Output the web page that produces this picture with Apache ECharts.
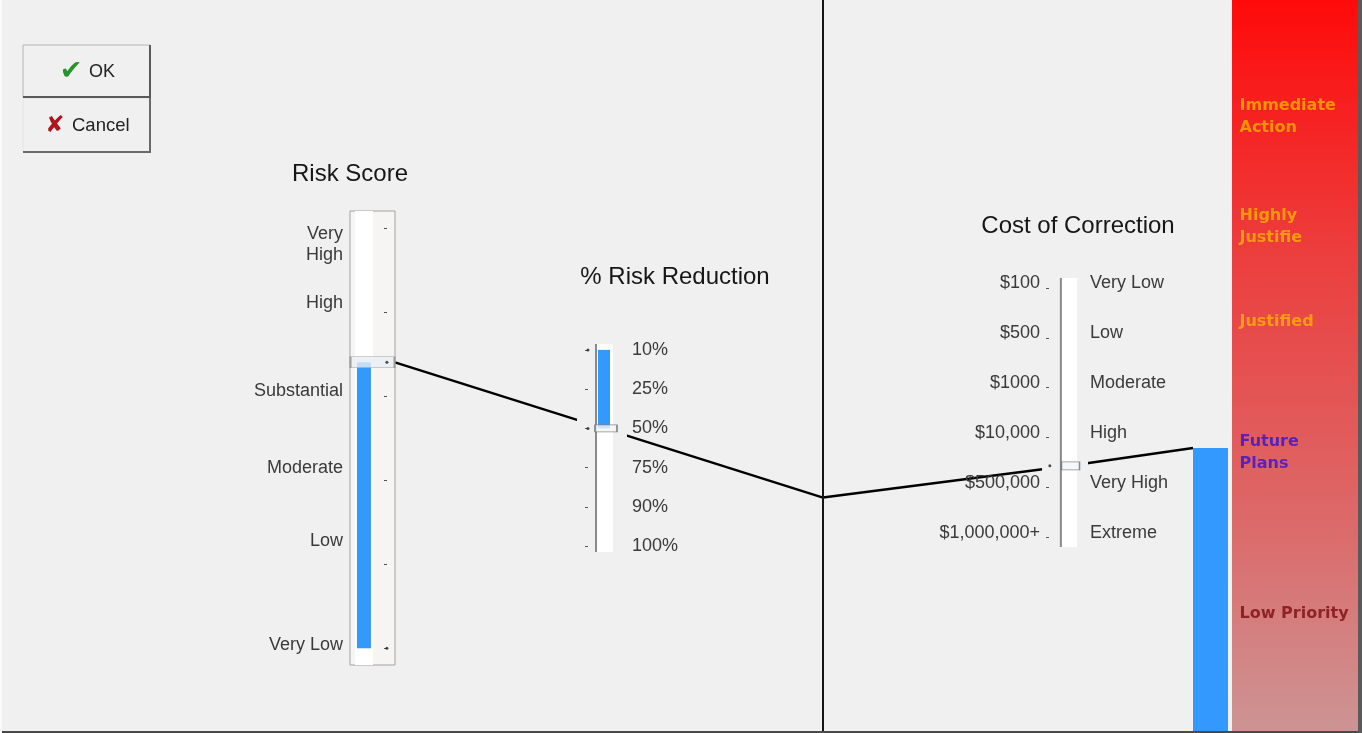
<!DOCTYPE html>
<html><head><meta charset="utf-8">
<script src="https://cdn.jsdelivr.net/npm/echarts@6/dist/echarts.min.js"></script>
<style>html,body{margin:0;padding:0;background:#f0f0f0;overflow:hidden}#c{width:1362px;height:733px}</style>
</head><body><div id="c"></div>
<script>
// ---------- data ----------
const riskLevels = ['Very Low', 'Low', 'Moderate', 'Substantial', 'High', 'Very\nHigh'];
const riskScore = 3.4;
const reductionLevels = ['10%', '25%', '50%', '75%', '90%', '100%'];
const reductionValue = 2;
const costAmounts = ['$100', '$500', '$1000', '$10,000', '$500,000', '$1,000,000+'];
const costLevels = ['Very Low', 'Low', 'Moderate', 'High', 'Very High', 'Extreme'];
const costValue = 3.57;
const priorityLevels = ['Immediate\nAction', 'Highly\nJustifie', 'Justified', 'Future\nPlans', 'Low Priority'];
const priorityScores = [84, 69, 56, 38, 16];
const priorityColors = ['#ffb000', '#ffb000', '#ffb000', '#3414d4', '#7c0c0c'];
const resultScore = 38.7;
const levelIdx = [0, 1, 2, 3, 4, 5];

// ---------- layout ----------
const FONT = '"Liberation Sans", Arial, sans-serif';
const RISK = [-0.2, 5.2], RED = [-0.15, 5.15], COST = [-0.2, 5.2];
// where the slider's text sits relative to its tick (layout only, in axis units)
const riskLabelAt = [0.04, 1.27, 2.14, 3.06, 4.1, 4.8];
const costLabelAt = levelIdx.map(i => i - 0.09);

const chart = echarts.init(document.getElementById('c'));
const lab = (arr) => (v) => { const i = Math.round(v); return arr[i] !== undefined ? arr[i] : ''; };

function hx(grid) { return { type: 'value', gridIndex: grid, min: 0, max: 1, show: false }; }
function yBase(grid, range, inverse) {
  return { type: 'value', gridIndex: grid, min: range[0], max: range[1], inverse: !!inverse, z: 6,
    splitLine: { show: false }, axisLine: { show: false, onZero: false }, axisTick: { show: false }, axisLabel: { show: false } };
}
function labelAxis(grid, range, inverse, pos, arr, margin, at) {
  const a = yBase(grid, range, inverse);
  a.position = pos;
  a.axisLabel = { show: true, customValues: at || levelIdx, formatter: lab(arr), margin: margin,
    fontFamily: FONT, fontSize: 18, color: '#3a3a3a', lineHeight: 21 };
  return a;
}
function tickAxis(grid, range, inverse, pos, offset, inside) {
  const a = yBase(grid, range, inverse);
  a.position = pos; a.offset = offset;
  a.axisTick = { show: true, customValues: levelIdx, length: 3, inside: !!inside, lineStyle: { color: '#555', width: 1 } };
  return a;
}

const option = {
  backgroundColor: '#f0f0f0',
  animation: false,
  grid: [
    { left: 0, top: 0, width: 1362, height: 733, show: false },
    { left: 350, top: 211, width: 45, height: 454, show: true, backgroundColor: '#f7f5f3', borderColor: '#a3a3a3', borderWidth: 1, z: 3 },
    { left: 577, top: 344, width: 50, height: 208, show: true, backgroundColor: '#f0f0f0', borderWidth: 0, z: 3 },
    { left: 1042, top: 278, width: 46, height: 269, show: true, backgroundColor: '#f0f0f0', borderWidth: 0, z: 3 },
    { left: 823, top: 0, width: 1, height: 731, show: false },
    { left: 1193, top: 0, width: 35, height: 731, show: false },
    { left: 1232, top: 0, width: 126, height: 731, show: false }
  ],
  xAxis: [
    { type: 'value', gridIndex: 0, min: 0, max: 1362, show: false },   // 0 overlay
    hx(1), hx(1), hx(1),                                                 // 1-3 risk
    hx(2), hx(2), hx(2), hx(2),                                          // 4-7 reduction
    hx(3), hx(3), hx(3),                                                 // 8-10 cost
    hx(4),                                                               // 11 pivot
    { type: 'category', gridIndex: 5, data: ['result'], show: false },   // 12
    hx(5),                                                               // 13
    { type: 'category', gridIndex: 6, data: ['panel'], show: false },    // 14
    hx(6)                                                                // 15
  ],
  yAxis: [
    { type: 'value', gridIndex: 0, min: 0, max: 733, inverse: true, show: false },       // 0
    labelAxis(1, RISK, false, 'left', riskLevels, 7, riskLabelAt),                        // 1
    tickAxis(1, RISK, false, 'right', -8, true),                                          // 2
    tickAxis(2, RED, true, 'left', -11, false),                                           // 3
    labelAxis(2, RED, true, 'right', reductionLevels, 5),                                 // 4
    labelAxis(3, COST, true, 'left', costAmounts, 2, costLabelAt),                        // 5
    tickAxis(3, COST, true, 'left', -7, false),                                           // 6
    labelAxis(3, COST, true, 'right', costLevels, 2, costLabelAt),                        // 7
    { type: 'value', gridIndex: 4, min: 0, max: 1, z: 6, splitLine: { show: false }, axisTick: { show: false }, axisLabel: { show: false },
      axisLine: { show: true, onZero: false, lineStyle: { color: '#151515', width: 2 } } },   // 8 pivot axis
    { type: 'value', gridIndex: 5, min: 0, max: 100, show: false },                        // 9
    { type: 'value', gridIndex: 6, min: 0, max: 100, show: false }                         // 10
  ],
  series: [
    { id: 'link', type: 'line', xAxisIndex: 0, yAxisIndex: 0, data: [], symbol: 'none', silent: true,
      lineStyle: { color: '#000', width: 2.5 }, z: 1 },
    // risk score slider
    { type: 'bar', xAxisIndex: 1, yAxisIndex: 1, barWidth: 18, data: [[0.31, RISK[1]], [0.31, RISK[0]]], itemStyle: { color: '#ffffff' }, z: 5, silent: true },
    { type: 'bar', xAxisIndex: 2, yAxisIndex: 1, barWidth: 14, data: [[0.31, riskScore]], itemStyle: { color: '#3399ff' }, z: 6, silent: true },
    { type: 'scatter', xAxisIndex: 3, yAxisIndex: 1, data: [[0.5, riskScore]], symbol: 'rect', symbolSize: [44, 11],
      itemStyle: { color: '#e8eef4', borderColor: '#8c8c8c', borderWidth: 1 }, z: 7, silent: true },
    { type: 'scatter', xAxisIndex: 3, yAxisIndex: 1, data: [[0.82, 0], [0.82, riskScore]], symbolSize: 3, itemStyle: { color: '#222' }, z: 8, silent: true },
    // % risk reduction slider
    { type: 'bar', xAxisIndex: 4, yAxisIndex: 3, barWidth: 16, data: [[0.56, RED[1]], [0.56, RED[0]]], itemStyle: { color: '#ffffff' }, z: 5, silent: true },
    { type: 'bar', xAxisIndex: 5, yAxisIndex: 3, barWidth: 2, data: [[0.38, RED[1]], [0.38, RED[0]]], itemStyle: { color: '#8a8a8a' }, z: 5, silent: true },
    { type: 'bar', xAxisIndex: 6, yAxisIndex: 3, barWidth: 12, data: [[0.54, reductionValue]], itemStyle: { color: '#3399ff' }, z: 6, silent: true },
    { type: 'scatter', xAxisIndex: 7, yAxisIndex: 3, data: [[0.58, reductionValue]], symbol: 'rect', symbolSize: [22, 7],
      itemStyle: { color: '#f3f5f7', borderColor: '#6e6e6e', borderWidth: 1 }, z: 7, silent: true },
    { type: 'scatter', xAxisIndex: 7, yAxisIndex: 3, data: [[0.22, 0], [0.22, reductionValue]], symbolSize: 3, itemStyle: { color: '#222' }, z: 8, silent: true },
    // cost slider
    { type: 'bar', xAxisIndex: 8, yAxisIndex: 5, barWidth: 15, data: [[0.6, COST[1]], [0.6, COST[0]]], itemStyle: { color: '#ffffff' }, z: 5, silent: true },
    { type: 'bar', xAxisIndex: 9, yAxisIndex: 5, barWidth: 2, data: [[0.41, COST[1]], [0.41, COST[0]]], itemStyle: { color: '#8a8a8a' }, z: 5, silent: true },
    { type: 'scatter', xAxisIndex: 10, yAxisIndex: 5, data: [[0.62, costValue]], symbol: 'rect', symbolSize: [18, 8],
      itemStyle: { color: '#f3f5f7', borderColor: '#6e6e6e', borderWidth: 1 }, z: 7, silent: true },
    { type: 'scatter', xAxisIndex: 10, yAxisIndex: 5, data: [[0.17, costValue]], symbolSize: 3, itemStyle: { color: '#222' }, z: 8, silent: true },
    // result bar
    { type: 'bar', xAxisIndex: 12, yAxisIndex: 9, barWidth: '100%', data: [resultScore], itemStyle: { color: '#3399ff' }, z: 5, silent: true },
    // priority panel
    { type: 'bar', xAxisIndex: 14, yAxisIndex: 10, barWidth: '100%', data: [100], silent: true, z: 4,
      itemStyle: { color: new echarts.graphic.LinearGradient(0, 0, 0, 1, [
        { offset: 0, color: '#ff0a0a' }, { offset: 0.35, color: '#ec3e3e' },
        { offset: 0.72, color: '#dc6a6a' }, { offset: 1, color: '#cd9494' }]) } },
    { type: 'scatter', xAxisIndex: 15, yAxisIndex: 10, symbolSize: 1, silent: true, z: 6,
      data: priorityScores.map((s, i) => ({ value: [0, s], label: { color: priorityColors[i] } })),
      itemStyle: { color: 'rgba(0,0,0,0)' },
      label: { show: true, position: 'right', distance: 7, fontFamily: '"DejaVu Sans", Verdana, sans-serif', fontWeight: 'bold', fontSize: 16, lineHeight: 22,
        formatter: (p) => priorityLevels[p.dataIndex] } }
  ],
  graphic: [
    { type: 'text', x: 350, y: 174, z: 10, style: { text: 'Risk Score', font: '24px ' + FONT, fill: '#161616', align: 'center', verticalAlign: 'middle' } },
    { type: 'text', x: 675, y: 277, z: 10, style: { text: '% Risk Reduction', font: '24px ' + FONT, fill: '#161616', align: 'center', verticalAlign: 'middle' } },
    { type: 'text', x: 1078, y: 226, z: 10, style: { text: 'Cost of Correction', font: '24px ' + FONT, fill: '#161616', align: 'center', verticalAlign: 'middle' } },
    // buttons
    { type: 'rect', shape: { x: 23, y: 45, width: 127, height: 52 }, style: { fill: '#f0f0f0', stroke: '#b4b4b4', lineWidth: 1 }, z: 10 },
    { type: 'polyline', shape: { points: [[23, 97], [150, 97], [150, 45]] }, style: { stroke: '#5a5a5a', lineWidth: 2, fill: null }, z: 11 },
    { type: 'text', x: 71, y: 72, z: 12, style: { text: '\u2714', font: 'bold 27px "DejaVu Sans"', fill: '#25962b', align: 'center', verticalAlign: 'middle' } },
    { type: 'text', x: 89, y: 72, z: 12, style: { text: 'OK', font: '18px ' + FONT, fill: '#222', align: 'left', verticalAlign: 'middle' } },
    { type: 'rect', shape: { x: 23, y: 98, width: 127, height: 54 }, style: { fill: '#f0f0f0', stroke: '#e4e4e4', lineWidth: 1 }, z: 10 },
    { type: 'polyline', shape: { points: [[23, 152], [150, 152], [150, 98]] }, style: { stroke: '#6a6a6a', lineWidth: 2, fill: null }, z: 11 },
    { type: 'text', x: 55, y: 126, z: 12, style: { text: '\u2718', font: 'bold 23px "DejaVu Sans"', fill: '#b3141b', align: 'center', verticalAlign: 'middle' } },
    { type: 'text', x: 72, y: 126, z: 12, style: { text: 'Cancel', font: '18.5px ' + FONT, fill: '#222', align: 'left', verticalAlign: 'middle' } },
    // window border
    { type: 'rect', shape: { x: 0, y: 731, width: 1362, height: 2 }, style: { fill: '#4a4a4a' }, z: 20 },
    { type: 'rect', shape: { x: 1358, y: 0, width: 4, height: 733 }, style: { fill: '#5a5a5a' }, z: 20 },
    { type: 'rect', shape: { x: 0, y: 0, width: 2, height: 733 }, style: { fill: '#fafafa' }, z: 20 }
  ]
};
chart.setOption(option);

// nomogram link line: risk -> reduction -> pivot axis -> cost -> result
const A = chart.convertToPixel({ xAxisIndex: 3, yAxisIndex: 1 }, [1, riskScore]);
const B = chart.convertToPixel({ xAxisIndex: 7, yAxisIndex: 3 }, [0.54, reductionValue]);
const px = chart.convertToPixel({ xAxisIndex: 11, yAxisIndex: 8 }, [0, 0])[0];
const P = [px, A[1] + (B[1] - A[1]) * (px - A[0]) / (B[0] - A[0])];
const C = chart.convertToPixel({ xAxisIndex: 10, yAxisIndex: 5 }, [0.6, costValue]);
const R = chart.convertToPixel({ xAxisIndex: 13, yAxisIndex: 9 }, [0, resultScore]);
const pts = [A, B, P, C, R].map(p => chart.convertFromPixel({ xAxisIndex: 0, yAxisIndex: 0 }, p));
chart.setOption({ series: [{ id: 'link', data: pts }] });
</script>
</body></html>
